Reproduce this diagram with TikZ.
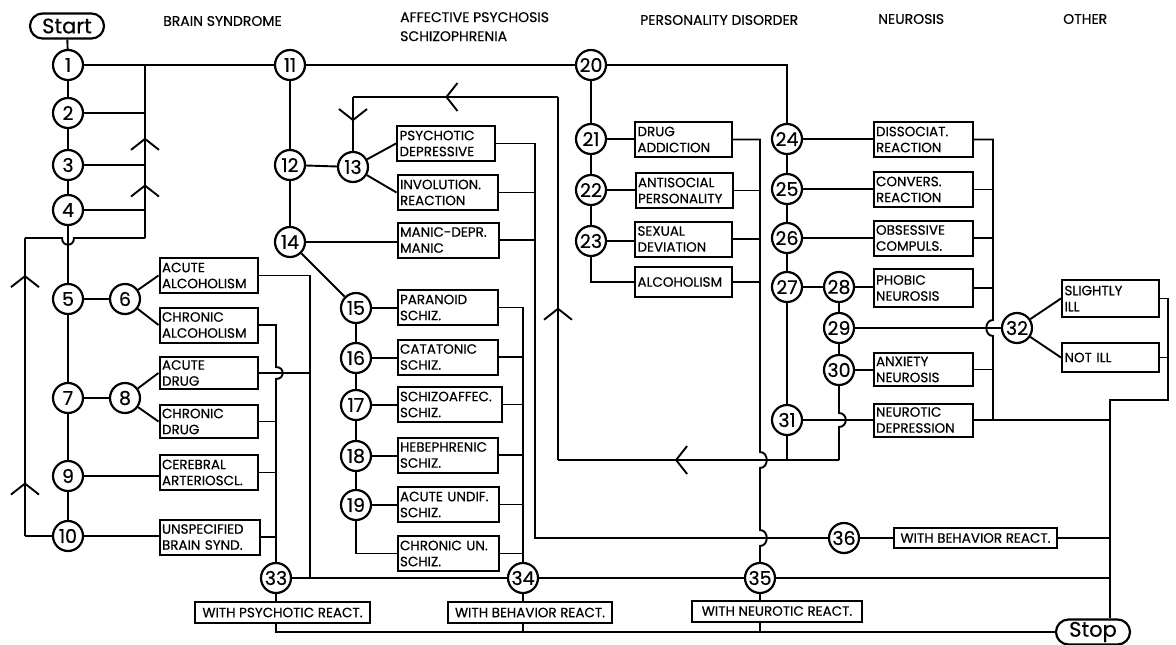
\documentclass[tikz,border=0pt]{standalone}
\usepackage{fontspec}
\setmainfont{Poppins}[FakeBold=0.4]
\usetikzlibrary{arrows.meta, decorations.markings, shapes.misc}

\newcommand{\numsize}{\fontsize{19}{19}\selectfont}
\newcommand{\termsize}{\fontsize{21}{21}\selectfont}
\newcommand{\boxsize}{\fontsize{13.5}{16}\selectfont}
\newcommand{\headsize}{\fontsize{14}{19}\selectfont}

\tikzset{
  num/.style={circle, draw, line width=2.2pt, minimum size=30pt, inner sep=0pt, font=\numsize, fill=white},
  dx/.style={draw, line width=2pt, minimum height=35pt, text width=#1, inner xsep=2.5pt, inner ysep=1pt, align=left, font=\boxsize, fill=white},
  dx/.default=93pt,
  rx/.style={draw, line width=2pt, minimum height=21pt, minimum width=#1, inner sep=1pt, font=\boxsize, fill=white},
  term/.style={draw, rounded rectangle, line width=2.2pt, minimum width=76pt, minimum height=25pt, inner sep=1pt, font=\termsize, fill=white},
  head/.style={anchor=west, align=left, font=\headsize, inner sep=0pt},
  wire/.style={line width=1.9pt},
  chevron/.style={postaction={decorate, decoration={markings, mark=at position #1 with {\arrow{Straight Barb[length=11pt,width=28pt]}}}}},
}

\begin{document}
\begin{tikzpicture}[x=1pt, y=-1pt]
    \useasboundingbox (0,0) rectangle (1176,645);

    % Terminals
    \node[term] (start) at (67,26) {Start};
    \node[term] (stop) at (1093,632) {Stop};

    % Column heads
    \node[head] (hbrain) at (163,21) {BRAIN SYNDROME};
    \node[head, anchor=north west] (haff) at (400,12) {AFFECTIVE PSYCHOSIS\\SCHIZOPHRENIA};
    \node[head] (hpers) at (640,20) {PERSONALITY DISORDER};
    \node[head] (hneu) at (878,19) {NEUROSIS};
    \node[head] (hoth) at (1063,19) {OTHER};

    % Brain syndrome
    \node[num] (c1) at (68,65) {1};
    \node[num] (c2) at (68,113) {2};
    \node[num] (c3) at (68,165) {3};
    \node[num] (c4) at (68,210) {4};
    \node[num] (c5) at (68,299) {5};
    \node[num] (c6) at (125,299) {6};
    \node[num] (c7) at (68,398) {7};
    \node[num] (c8) at (125,398) {8};
    \node[num] (c9) at (68,476) {9};
    \node[num] (c10) at (68,536) {10};

    \node[dx] (acalc) at (208.5,275.5) {ACUTE\\ALCOHOLISM};
    \node[dx] (chalc) at (208.5,325) {CHRONIC\\ALCOHOLISM};
    \node[dx, minimum height=32pt] (acdrug) at (208.5,373) {ACUTE\\DRUG};
    \node[dx, minimum height=33pt] (chdrug) at (208.5,421.5) {CHRONIC\\DRUG};
    \node[dx] (cerebr) at (208.5,472.5) {CEREBRAL\\ARTERIOSCL.};
    \node[dx=95pt] (unspec) at (209.5,537) {UNSPECIFIED\\BRAIN SYND.};

    % Affective psychosis, schizophrenia
    \node[num] (c11) at (290,65) {11};
    \node[num] (c12) at (290,165) {12};
    \node[num] (c13) at (353,167) {13};
    \node[num] (c14) at (290,242) {14};
    \node[num] (c15) at (356,308) {15};
    \node[num] (c16) at (356,358) {16};
    \node[num] (c17) at (356,405) {17};
    \node[num] (c18) at (356,456) {18};
    \node[num] (c19) at (356,505) {19};

    \node[dx=93pt] (psydep) at (446,143.5) {PSYCHOTIC\\DEPRESSIVE};
    \node[dx=95pt] (invol) at (447.5,192.5) {INVOLUTION.\\REACTION};
    \node[dx=96pt] (manic) at (448,240) {MANIC-DEPR.\\MANIC};
    \node[dx=95pt] (paran) at (447.5,307.5) {PARANOID\\SCHIZ.};
    \node[dx=95pt] (catat) at (447.5,357) {CATATONIC\\SCHIZ.};
    \node[dx=99pt] (schaff) at (449.5,404.5) {SCHIZOAFFEC.\\SCHIZ.};
    \node[dx=95pt] (hebeph) at (447.5,455) {HEBEPHRENIC\\SCHIZ.};
    \node[dx=96pt] (acundif) at (448,504.5) {ACUTE UNDIF.\\SCHIZ.};
    \node[dx=96pt] (chrun) at (448,553.5) {CHRONIC UN.\\SCHIZ.};

    % Personality disorder
    \node[num] (c20) at (591,65) {20};
    \node[num] (c21) at (591,139) {21};
    \node[num] (c22) at (591,190) {22};
    \node[num] (c23) at (591,241) {23};

    \node[dx=92pt] (drugadd) at (683.5,139.5) {DRUG\\ADDICTION};
    \node[dx=92pt] (antisoc) at (684,190.5) {ANTISOCIAL\\PERSONALITY};
    \node[dx=92pt] (sexdev) at (683.5,239) {SEXUAL\\DEVIATION};
    \node[dx=92pt, minimum height=30pt] (alcoh) at (683.5,282) {ALCOHOLISM};

    % Neurosis
    \node[num] (c24) at (787,139) {24};
    \node[num] (c25) at (787,189) {25};
    \node[num] (c26) at (787,238) {26};
    \node[num] (c27) at (787,287) {27};
    \node[num] (c28) at (839,287) {28};
    \node[num] (c29) at (839,328) {29};
    \node[num] (c30) at (839,370) {30};
    \node[num] (c31) at (787,420) {31};

    \node[dx=94pt] (dissoc) at (923,139.5) {DISSOCIAT.\\REACTION};
    \node[dx=94pt] (convers) at (923,189.5) {CONVERS.\\REACTION};
    \node[dx=94pt] (obsess) at (923,238) {OBSESSIVE\\COMPULS.};
    \node[dx=94pt, minimum height=38pt] (phobic) at (923,288) {PHOBIC\\NEUROSIS};
    \node[dx=94pt, minimum height=33pt] (anxiety) at (923,369.5) {ANXIETY\\NEUROSIS};
    \node[dx=94pt, minimum height=33pt] (neurdep) at (923,420) {NEUROTIC\\DEPRESSION};

    % Other
    \node[num] (c32) at (1017,328) {32};
    \node[dx=92pt, minimum height=37pt] (slill) at (1110.5,298.5) {SLIGHTLY\\ILL};
    \node[dx=92pt, minimum height=29pt] (notill) at (1110.5,357.5) {NOT ILL};

    % Reactions
    \node[num] (c33) at (276,578) {33};
    \node[num] (c34) at (523,578) {34};
    \node[num] (c35) at (760,578) {35};
    \node[num] (c36) at (844,538) {36};
    \node[rx=175pt] (rpsy) at (282.5,612.5) {WITH PSYCHOTIC REACT.};
    \node[rx=164pt] (rbeh) at (530,612.5) {WITH BEHAVIOR REACT.};
    \node[rx=170pt] (rneu) at (777,611) {WITH NEUROTIC REACT.};
    \node[rx=163pt, minimum height=20pt] (rbehb) at (975.5,538) {WITH BEHAVIOR REACT.};

    % Junctions
    \coordinate (jtop) at (145,65);
    \coordinate (jloop) at (145,238);
    \coordinate (jleft) at (25,238);
    \coordinate (jcor) at (787,65);
    \coordinate (jbr) at (310,578);
    \coordinate (jdep) at (535,538);
    \coordinate (jse) at (839,460);
    \coordinate (jsw) at (558,460);
    \coordinate (jnw) at (558,97);
    \coordinate (jnc) at (353,97);
    \coordinate (jneu) at (993,420);
    \coordinate (jrr) at (1168,400);
    \coordinate (jst) at (1110,400);
    \coordinate (jbot) at (276,632);

    % Main spine
    \draw[wire] (start) -- (c1) -- (c2) -- (c3) -- (c4) -- (c5) -- (c7) -- (c9) -- (c10);
    \draw[wire] (c1) -- (c11) -- (c20) -- (jcor) -- (c24);

    % Return loop on the left
    \draw[wire] (c2) -- (c2 -| jtop);
    \draw[wire] (c3) -- (c3 -| jtop);
    \draw[wire] (c4) -- (c4 -| jtop);
    \draw[wire, chevron=0.31, chevron=0.58] (jloop) -- (jtop);
    \draw[wire] (jloop) -- (74,238) .. controls (74,247) and (62,247) .. (62,238) -- (jleft);
    \draw[wire, chevron=0.18, chevron=0.876] (c10 -| jleft) -- (jleft);
    \draw[wire] (c10) -- (c10 -| jleft);

    % Brain syndrome branches
    \draw[wire] (c5) -- (c6);
    \draw[wire] (c7) -- (c8);
    \draw[wire] (c6) -- (acalc.west);
    \draw[wire] (c6) -- (chalc.west);
    \draw[wire] (c8) -- (acdrug.west);
    \draw[wire] (c8) -- (chdrug.west);
    \draw[wire] (c9) -- (c9 -| cerebr.west);
    \draw[wire] (c10) -- (c10 -| unspec.west);
    \draw[wire] (acalc.east) -| (jbr);
    \draw[wire] (acdrug.east) -- (acdrug.east -| jbr);
    \draw[wire] (chalc.east) -| (276,367) .. controls (285,367) and (285,379) .. (276,379) -- (c33);
    \foreach \b in {chdrug, cerebr, unspec}
        \draw[wire] (\b.east) -- (\b.east -| c33);

    % Affective psychosis, schizophrenia branches
    \draw[wire] (c11) -- (c12) -- (c14);
    \draw[wire] (c12) -- (c13);
    \draw[wire] (c13) -- (psydep.west);
    \draw[wire] (c13) -- (invol.west);
    \draw[wire] (c14) -- (c14 -| manic.west);
    \draw[wire] (c14) -- (c15) -- (c16) -- (c17) -- (c18) -- (c19);
    \foreach \a/\b in {c15/paran, c16/catat, c17/schaff, c18/hebeph, c19/acundif}
        \draw[wire] (\a) -- (\a -| \b.west);
    \draw[wire] (c19) |- (chrun.west);
    \draw[wire] (paran.east) -| (c34);
    \foreach \b in {catat, schaff, hebeph, acundif, chrun}
        \draw[wire] (\b.east) -- (\b.east -| c34);
    \draw[wire] (psydep.east) -| (jdep) -- (c36);
    \foreach \b in {invol, manic}
        \draw[wire] (\b.east) -- (\b.east -| jdep);

    % Loop back to 13
    \draw[wire] (c30) -- (839,413) .. controls (848,413) and (848,427) .. (839,427) -- (jse);
    \draw[wire] (c31) -- (c31 |- jse);
    \draw[wire, chevron=0.584] (jse) -- (jsw);
    \draw[wire, chevron=0.42] (jsw) -- (jnw);
    \draw[wire, chevron=0.55] (jnw) -- (jnc);
    \draw[wire, chevron=0.45] (jnc) -- (c13);

    % Personality disorder branches
    \draw[wire] (c20) -- (c21) -- (c22) -- (c23);
    \foreach \a/\b in {c21/drugadd, c22/antisoc, c23/sexdev}
        \draw[wire] (\a) -- (\a -| \b.west);
    \draw[wire] (c23) |- (alcoh.west);
    \draw[wire] (drugadd.east) -| (760,452) .. controls (769,452) and (769,468) .. (760,468)
        -- (760,530) .. controls (769,530) and (769,546) .. (760,546) -- (c35);
    \foreach \b in {antisoc, sexdev, alcoh}
        \draw[wire] (\b.east) -- (\b.east -| c35);

    % Neurosis branches
    \draw[wire] (c24) -- (c25) -- (c26) -- (c27) -- (c31);
    \draw[wire] (c27) -- (c28) -- (c29) -- (c30);
    \foreach \a/\b in {c24/dissoc, c25/convers, c26/obsess, c28/phobic, c30/anxiety, c31/neurdep}
        \draw[wire] (\a) -- (\a -| \b.west);
    \draw[wire] (c29) -- (c32);
    \draw[wire] (dissoc.east) -| (993,320) .. controls (984,320) and (984,336) .. (993,336) -- (jneu);
    \foreach \b in {convers, obsess, phobic, anxiety}
        \draw[wire] (\b.east) -- (\b.east -| jneu);

    % Other
    \draw[wire] (c32) -- (slill.west);
    \draw[wire] (c32) -- (notill.west);
    \draw[wire] (slill.east) -| (jrr) -- (jst) -- (stop.north -| jst);
    \draw[wire] (notill.east) -- (notill.east -| jrr);
    \draw[wire] (neurdep.east) -- (neurdep.east -| jst);

    % Reactions
    \draw[wire] (c33) -- (c34) -- (c35) -- (c35 -| jst);
    \draw[wire] (c36) -- (rbehb) -- (rbehb.east -| jst);
    \draw[wire] (c33) -- (rpsy.north -| c33);
    \draw[wire] (c34) -- (rbeh.north -| c34);
    \draw[wire] (c35) -- (rneu.north -| c35);
    \draw[wire] (rpsy.south -| c33) -- (jbot) -- (stop.west);
    \draw[wire] (rbeh.south -| c34) -- (c34 |- jbot);
    \draw[wire] (rneu.south -| c35) -- (c35 |- jbot);

\end{tikzpicture}
\end{document}
